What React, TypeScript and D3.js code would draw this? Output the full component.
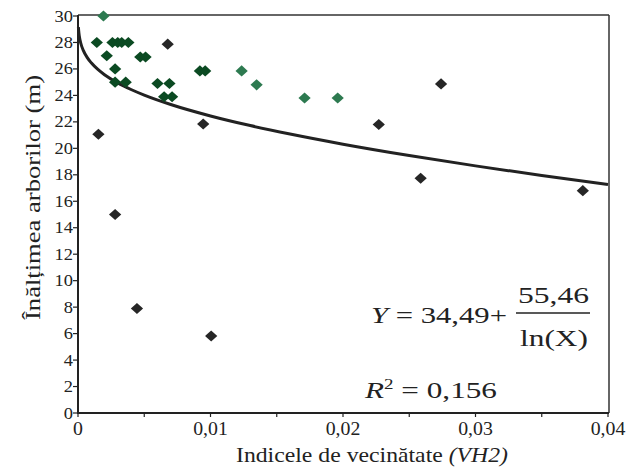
import React, { useRef, useEffect } from "react";
import * as d3 from "d3";

// puncte verzi (închise), verzi deschise și negre: [VH2, înălțime]
const darkGreen: [number, number][] = [
  [0.00142, 28], [0.0026, 28], [0.003, 28], [0.0033, 28], [0.0038, 28],
  [0.00217, 27], [0.0047, 26.9], [0.0051, 26.9], [0.0028, 26],
  [0.0028, 25], [0.0036, 25], [0.006, 24.9], [0.0069, 24.9],
  [0.0065, 23.9], [0.0071, 23.9], [0.0092, 25.85], [0.0096, 25.85],
];
const lightGreen: [number, number][] = [
  [0.00192, 30], [0.01235, 25.85], [0.01348, 24.8], [0.0171, 23.8], [0.0196, 23.8],
];
const black: [number, number][] = [
  [0.00677, 27.87], [0.00154, 21.06], [0.00945, 21.84], [0.0028, 15.0],
  [0.00445, 7.9], [0.01005, 5.82], [0.0274, 24.87], [0.0227, 21.8],
  [0.02586, 17.74], [0.0381, 16.8],
];

const yTicks = [0, 2, 4, 6, 8, 10, 12, 14, 16, 18, 20, 22, 24, 26, 28, 30];
const xLabels = [0, 0.01, 0.02, 0.03, 0.04];
const xMinor = [0, 0.005, 0.01, 0.015, 0.02, 0.025, 0.03, 0.035, 0.04];

// Y = a + b / ln(X)
const coefA = 34.49;
const coefB = 55.46;
const curveX = [0.00003, 0.00005, 0.0001, 0.0002, 0.0004, 0.0007, 0.001, 0.0015, 0.002, 0.003,
  0.004, 0.005, 0.007, 0.01, 0.013, 0.016, 0.02, 0.025, 0.03, 0.035, 0.04];

const fmt = (d: number) => (d === 0 ? "0" : d.toFixed(2).replace(".", ","));
const FONT = "'Times New Roman', 'Liberation Serif', 'DejaVu Serif', serif";

const Chart = ({ width = 627, height = 475 }) => {
  const ref = useRef<SVGSVGElement>(null);

  useEffect(() => {
    const svgEl = ref.current;
    if (!svgEl) return;
    d3.select(svgEl).selectChildren().remove();

    const x = d3.scaleLinear().domain([0, 0.04]).range([78, 608]);
    const y = d3.scaleLinear().domain([0, 30]).range([413, 16]);

    const svg = d3.select(svgEl).append("g")
      .style("font-family", FONT)
      .attr("fill", "#222");

    // cadru
    svg.append("line").attr("x1", 609).attr("x2", 609).attr("y1", 15).attr("y2", 413)
      .attr("stroke", "#333").attr("stroke-width", 1.5);
    svg.append("line").attr("x1", 78).attr("x2", 609).attr("y1", 15).attr("y2", 15)
      .attr("stroke", "#333").attr("stroke-width", 1.5);
    svg.append("line").attr("x1", 78).attr("x2", 78).attr("y1", 15).attr("y2", 414)
      .attr("stroke", "#222").attr("stroke-width", 2);
    svg.append("line").attr("x1", 77).attr("x2", 609).attr("y1", 413).attr("y2", 413)
      .attr("stroke", "#222").attr("stroke-width", 2);

    // axa Y
    svg.selectAll("ytick").data(yTicks).enter().append("line")
      .attr("x1", 73).attr("x2", 78)
      .attr("y1", (d) => y(d)).attr("y2", (d) => y(d))
      .attr("stroke", "#222").attr("stroke-width", 1.2);
    svg.selectAll("ylab").data(yTicks).enter().append("text")
      .attr("transform", (d) => `translate(73, ${y(d) + 5.5}) scale(1.15, 1)`)
      .attr("text-anchor", "end")
      .style("font-family", FONT)
      .style("font-size", "16px")
      .text((d) => d);

    // axa X
    svg.selectAll("xtick").data(xMinor).enter().append("line")
      .attr("x1", (d) => x(d)).attr("x2", (d) => x(d))
      .attr("y1", 413).attr("y2", 417)
      .attr("stroke", "#222").attr("stroke-width", 1.2);
    svg.selectAll("xlab").data(xLabels).enter().append("text")
      .attr("transform", (d) => `translate(${x(d)}, 435) scale(1.1, 1)`)
      .attr("text-anchor", "middle")
      .style("font-family", FONT)
      .style("font-size", "18px")
      .text(fmt);

    // titluri axe
    const xt = svg.append("text")
      .attr("x", 236).attr("y", 462)
      .attr("textLength", 272).attr("lengthAdjust", "spacingAndGlyphs")
      .style("font-family", FONT)
      .style("font-size", "22px");
    xt.append("tspan").text("Indicele de vecinătate ");
    xt.append("tspan").style("font-style", "italic").text("(VH2)");

    svg.append("text")
      .attr("transform", "translate(40, 320) rotate(-90)")
      .attr("textLength", 245).attr("lengthAdjust", "spacingAndGlyphs")
      .style("font-family", FONT)
      .style("font-size", "22px")
      .text("Înălțimea arborilor (m)");

    // curba de regresie
    const line = d3.line<number>()
      .x((d) => x(d))
      .y((d) => y(coefA + coefB / Math.log(d)))
      .curve(d3.curveMonotoneX);
    svg.append("path").datum(curveX)
      .attr("d", line)
      .attr("fill", "none").attr("stroke", "#222").attr("stroke-width", 3);

    // puncte
    const sym = d3.symbol().type(d3.symbolSquare).size(62);
    const groups: [[number, number][], string][] = [
      [black, "#262626"], [darkGreen, "#0b4a22"], [lightGreen, "#2d7a50"],
    ];
    groups.forEach(([pts, color]) => {
      svg.selectAll("pt").data(pts).enter().append("path")
        .attr("d", sym)
        .attr("transform", (d) => `translate(${x(d[0])}, ${y(d[1])}) scale(1.1, 1) rotate(45)`)
        .attr("fill", color);
    });

    // ecuația
    const eq = svg.append("g").style("font-family", FONT).style("font-size", "23px");
    const eqText = eq.append("text").attr("x", 371).attr("y", 323)
      .attr("textLength", 136).attr("lengthAdjust", "spacingAndGlyphs");
    eqText.append("tspan").style("font-style", "italic").text("Y");
    eqText.append("tspan").text(" = 34,49+");
    eq.append("text").attr("x", 518).attr("y", 303)
      .attr("textLength", 71).attr("lengthAdjust", "spacingAndGlyphs").text("55,46");
    eq.append("line").attr("x1", 516).attr("x2", 590).attr("y1", 313).attr("y2", 313)
      .attr("stroke", "#222").attr("stroke-width", 1.3);
    eq.append("text").attr("x", 520).attr("y", 346)
      .attr("textLength", 68).attr("lengthAdjust", "spacingAndGlyphs").text("ln(X)");
    const r2 = eq.append("text").attr("x", 365).attr("y", 398)
      .attr("textLength", 132).attr("lengthAdjust", "spacingAndGlyphs");
    r2.append("tspan").style("font-style", "italic").text("R");
    r2.append("tspan").attr("dy", -9).style("font-size", "14px").text("2");
    r2.append("tspan").attr("dy", 9).text(" = 0,156");
  }, [width, height]);

  return (
    <svg ref={ref} width={width} height={height}
      style={{ position: "absolute", left: 0, top: 0, background: "#fff" }} />
  );
};

export default function App() {
  return <Chart />;
}
